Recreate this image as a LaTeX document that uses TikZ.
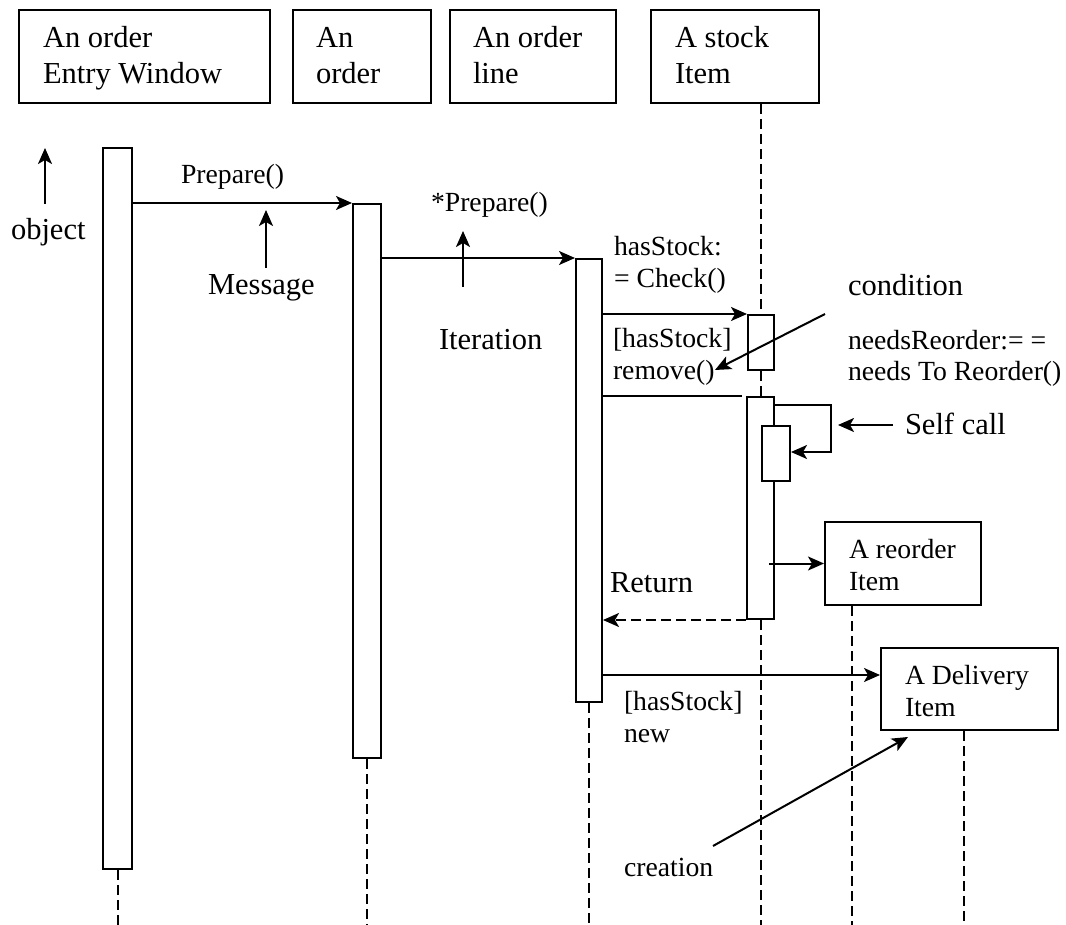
\documentclass[tikz,border=0pt]{standalone}
\usepackage{fontspec}
\setmainfont{Liberation Serif}
\usetikzlibrary{arrows.meta,calc}
\newcommand\lblbig{\fontsize{30.5}{36}\selectfont}
\newcommand\lblsmall{\fontsize{27.7}{32}\selectfont}
\begin{document}
\begin{tikzpicture}[x=1pt,y=-1pt,
  line width=2pt,
  objbox/.style={draw, rectangle, inner sep=0pt, anchor=north west},
  actbar/.style={draw, fill=white, rectangle, inner sep=0pt, anchor=north west},
  life/.style={dash pattern=on 10pt off 5pt},
  msg/.style={-{Stealth[length=16pt,width=14pt,inset=4pt]}},
  reply/.style={msg, dash pattern=on 10pt off 5pt},
  bigtext/.style={inner sep=0pt, anchor=base west, font=\lblbig},
  smalltext/.style={inner sep=0pt, anchor=base west, font=\lblsmall},
]
\useasboundingbox (0,0) rectangle (1066,925);
\coordinate (floor) at (0,925);

% object boxes
\node[objbox, minimum width=251, minimum height=93] (ow) at (18,9) {};
\node[objbox, minimum width=138, minimum height=93] (oo) at (292,9) {};
\node[objbox, minimum width=166, minimum height=93] (ol) at (449,9) {};
\node[objbox, minimum width=168, minimum height=93] (si) at (650,9) {};
\node[bigtext] (owt) at (42,48) {\begin{tabular}[t]{@{}l@{}}An order\\Entry Window\end{tabular}};
\node[bigtext] (oot) at (315,48) {\begin{tabular}[t]{@{}l@{}}An\\order\end{tabular}};
\node[bigtext] (olt) at (472,48) {\begin{tabular}[t]{@{}l@{}}An order\\line\end{tabular}};
\node[bigtext] (sit) at (674,48) {\begin{tabular}[t]{@{}l@{}}A stock\\Item\end{tabular}};

% created objects
\node[objbox, minimum width=156, minimum height=83] (ri) at (824,521) {};
\node[objbox, minimum width=177, minimum height=82] (di) at (880,647) {};
\node[smalltext] (rit) at (848,558) {\begin{tabular}[t]{@{}l@{}}A reorder\\Item\end{tabular}};
\node[smalltext] (dit) at (904,684) {\begin{tabular}[t]{@{}l@{}}A Delivery\\Item\end{tabular}};

% lifelines
\node[actbar, minimum width=26, minimum height=55] (a4) at (747,314) {};
\draw[life] (a4.north |- si.south) -- (a4.north);
\draw[life] (a4.south) -- (a4.south |- 0,396);

% activation bars
\node[actbar, minimum width=29, minimum height=721] (a1) at (102,147) {};
\node[actbar, minimum width=28, minimum height=554] (a2) at (352,203) {};
\node[actbar, minimum width=26, minimum height=443] (a3) at (575,258) {};
\node[actbar, minimum width=27, minimum height=222] (a5) at (746,396) {};
\node[actbar, minimum width=28, minimum height=55] (a6) at (761,425) {};

\draw[life] (a1.south) -- (a1.south |- floor);
\draw[life] (a2.south) -- (a2.south |- floor);
\draw[life] (a3.south) -- (a3.south |- floor);
\draw[life] (a5.south) -- (a5.south |- floor);
\coordinate (rl) at ($(ri.south west)+(28,0)$);
\coordinate (dl) at ($(di.south west)+(84,0)$);
\draw[life] (rl) -- (rl |- floor);
\draw[life] (dl) -- (dl |- floor);

% messages
\draw[msg] (a1.east |- a2.north) -- (a2.north west);
\draw[msg] (a2.east |- a3.north) -- (a3.north west);
\draw[msg] (a3.east |- a4.north) -- (a4.north west);
\draw (a3.east |- a5.north) -- ($(a5.north west)+(-4,0)$);
\draw[msg] ($(a5.north east)+(0,9)$) -- ++(56,0) |- ($(a6.north east)+(0,27)$);
\draw[msg] ($(ri.west)+(-55,0)$) -- (ri.west);
\draw[reply] (a5.south west) -- (a3.east |- a5.south);
\coordinate (newy) at (0,675);
\draw[msg] (a3.east |- newy) -- (di.west |- newy);

% message labels
\node[smalltext] (m1) at (180,184) {Prepare()};
\node[smalltext] (m2) at (430,212) {*Prepare()};
\node[smalltext] (m3) at (613,256) {\begin{tabular}[t]{@{}l@{}}hasStock:\\= Check()\end{tabular}};
\node[smalltext] (m4) at (612,348) {\begin{tabular}[t]{@{}l@{}}[hasStock]\\remove()\end{tabular}};
\node[bigtext] (m5) at (609,592) {Return};
\node[smalltext] (m6) at (623,710) {\begin{tabular}[t]{@{}l@{}}[hasStock]\\new\end{tabular}};
\node[smalltext] (m7) at (847,349) {\begin{tabular}[t]{@{}l@{}}needsReorder:= =\\needs To Reorder()\end{tabular}};

% annotations
\node[bigtext] (nobj) at (10,240) {object};
\node[bigtext] (nmsg) at (207,295) {Message};
\node[bigtext] (nit) at (438,350) {Iteration};
\node[bigtext] (ncond) at (847,296) {condition};
\node[bigtext] (nself) at (904,434) {Self call};
\node[smalltext] (ncre) at (623,876) {creation};

\coordinate (objtail) at (45,204);  \coordinate (objhead) at (45,148);
\coordinate (msgtail) at (266,268); \coordinate (msghead) at (266,210);
\coordinate (ittail) at (463,287);  \coordinate (ithead) at (463,231);
\coordinate (cdtail) at (825,314);  \coordinate (cdhead) at (715,370);
\coordinate (sctail) at (893,425);  \coordinate (schead) at (838,425);
\coordinate (crtail) at (713,846);  \coordinate (crhead) at (908,737);
\draw[msg] (objtail) -- (objhead);
\draw[msg] (msgtail) -- (msghead);
\draw[msg] (ittail) -- (ithead);
\draw[msg] (cdtail) -- (cdhead);
\draw[msg] (sctail) -- (schead);
\draw[msg] (crtail) -- (crhead);
\end{tikzpicture}
\end{document}
